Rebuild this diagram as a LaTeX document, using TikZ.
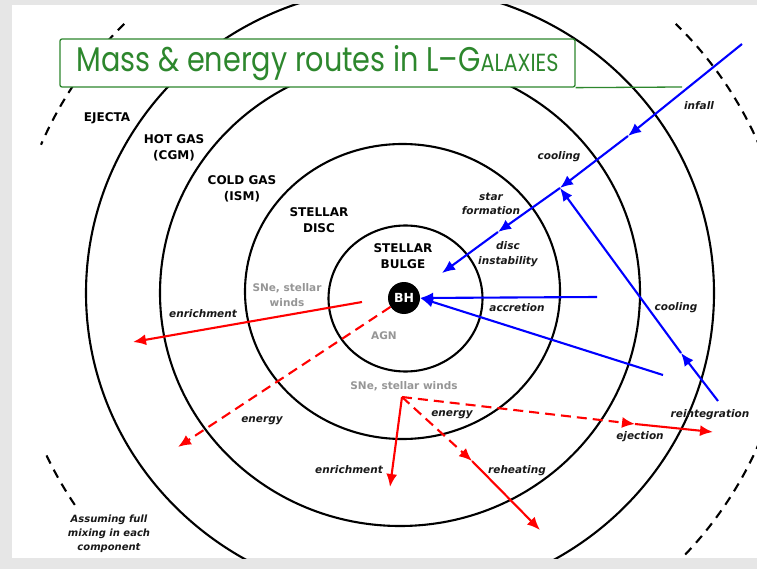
\documentclass[tikz,border=0pt]{standalone}
\usepackage{fontspec}
\setmainfont{DejaVu Sans}
\newfontfamily\titlefont{Poppins}
\usetikzlibrary{arrows.meta}
\definecolor{titlegreen}{RGB}{45,135,45}
\definecolor{bordergray}{RGB}{230,230,230}
\definecolor{labelgray}{RGB}{150,150,150}
\definecolor{flowblue}{RGB}{0,0,255}
\definecolor{flowred}{RGB}{255,0,0}
\definecolor{textdark}{RGB}{25,25,25}
\begin{document}
\begin{tikzpicture}[x=1pt,y=-1pt,
  ring/.style={draw=black, line width=2.1pt},
  ejring/.style={draw=black, line width=2.1pt, dash pattern=on 9pt off 7pt},
  comp/.style={font=\bfseries\fontsize{12}{16.5}\selectfont, align=center, text=black, inner sep=0pt},
  proc/.style={font=\bfseries\itshape\fontsize{10.5}{14.5}\selectfont, align=center, text=textdark, inner sep=0pt},
  src/.style={font=\bfseries\fontsize{10.5}{14.5}\selectfont, align=center, text=labelgray, inner sep=0pt},
  inflow/.style={draw=flowblue, line width=2.1pt, -{Latex[length=13pt,width=11pt]}},
  outflow/.style={draw=flowred, line width=2.1pt, -{Latex[length=13pt,width=11pt]}},
  outflowdash/.style={outflow, dash pattern=on 10pt off 6pt},
  titlebox/.style={draw=titlegreen, line width=1.3pt, fill=white, rounded corners=2pt, minimum width=515pt, minimum height=48pt, inner sep=0pt, text=titlegreen},
]
\useasboundingbox (0,0) rectangle (757,569);
\fill[bordergray] (0,0) rectangle (757,569);
\fill[white] (12,5) rectangle (757,558);

\begin{scope}
\clip (12,5) rectangle (757,558);
\draw[ring] (405.5,298.5) ellipse [x radius=77pt, y radius=73pt];
\draw[ring] (402.5,291.5) ellipse [x radius=157.5pt, y radius=147.5pt];
\draw[ring] (400,293) ellipse [x radius=240pt, y radius=233pt];
\draw[ring] (400,293) ellipse [x radius=314pt, y radius=306pt];
\draw[ejring] (400,294) ++(135:390pt and 382pt) arc[start angle=135, end angle=157, x radius=390pt, y radius=382pt];
\draw[ejring] (400,294) ++(205:390pt and 382pt) arc[start angle=205, end angle=214, x radius=390pt, y radius=382pt];
\draw[ejring] (400,294) ++(-43:390pt and 382pt) arc[start angle=-43, end angle=-20, x radius=390pt, y radius=382pt];
\draw[ejring] (400,294) ++(20:390pt and 382pt) arc[start angle=20, end angle=45, x radius=390pt, y radius=382pt];
\end{scope}

% title
\node[titlebox] (title) at (317.5,63) {\scalebox{0.99}[1.18]{\titlefont\fontsize{29}{29}\selectfont Mass \& energy routes in L–G{\fontsize{21}{21}\selectfont ALAXIES}}};
\coordinate (ruleend) at (682,87);
\draw[titlegreen, line width=1.3pt] (title.south east) -- (ruleend);

% components
\node[comp] (ejecta) at (107,118) {EJECTA};
\node[comp] (hotgas) at (174,148) {HOT GAS\\(CGM)};
\node[comp] (coldgas) at (242,189) {COLD GAS\\(ISM)};
\node[comp] (disc) at (319,220) {STELLAR\\DISC};
\node[comp] (bulge) at (403,256) {STELLAR\\BULGE};
\node[circle, fill=black, minimum size=32pt, inner sep=0pt, text=white, font=\bfseries\fontsize{12.5}{12.5}\selectfont] (bh) at (404,298) {BH};

% sources
\node[src] (snebulge) at (287,295) {SNe, stellar\\winds};
\node[src] (agn) at (384,336) {AGN};
\node[src] (snedisc) at (404,386) {SNe, stellar winds};

% process labels
\node[proc] (infall) at (699,106) {infall};
\node[proc] (cooling1) at (559,157) {cooling};
\node[proc] (starform) at (491,204) {star\\formation};
\node[proc] (discinst) at (508,254) {disc\\instability};
\node[proc] (accretion) at (517,308) {accretion};
\node[proc] (cooling2) at (676,308) {cooling};
\node[proc] (reintegration) at (710,415) {reintegration};
\node[proc] (ejection) at (640,437) {ejection};
\node[proc] (energy1) at (452,415) {energy};
\node[proc] (reheating) at (517,471) {reheating};
\node[proc] (enrich1) at (349,470) {enrichment};
\node[proc] (enrich2) at (203,314) {enrichment};
\node[proc] (energy2) at (262,421) {energy};
\node[proc, font=\bfseries\itshape\fontsize{10}{14}\selectfont] (note) at (109,534) {Assuming full\\mixing in each\\component};

% inflow coordinates
\coordinate (infallstart) at (742,44);
\coordinate (infalltip) at (628,136);
\coordinate (cooltip) at (560,188);
\coordinate (sftip) at (498,232);
\coordinate (ditip) at (442,273);
\coordinate (reincstart) at (718,401);
\coordinate (reinctip) at (681,353);
\coordinate (accstartA) at (597,297);
\coordinate (accstartB) at (663,375);

\draw[inflow] (infallstart) -- (infalltip);
\draw[inflow] (infalltip) -- (cooltip);
\draw[inflow] (cooltip) -- (sftip);
\draw[inflow] (sftip) -- (ditip);
\draw[inflow] (reincstart) -- (reinctip);
\draw[inflow] (reinctip) -- (cooltip);
\draw[inflow] (accstartA) -- (bh.east);
\draw[inflow] (accstartB) -- (bh.east);

% outflow coordinates
\coordinate (enrichstart) at (362,302);
\coordinate (enrichend) at (133,342);
\coordinate (agnend) at (178,447);
\coordinate (snesrc) at (402,397);
\coordinate (enrichdown) at (390,487);
\coordinate (ejecttip) at (635,424);
\coordinate (ejectend) at (713,432);
\coordinate (reheattip) at (472,461);
\coordinate (reheatend) at (540,530);

\draw[outflow] (enrichstart) -- (enrichend);
\draw[outflowdash] (bh) -- (agnend);
\draw[outflow] (snesrc) -- (enrichdown);
\draw[outflowdash] (snesrc) -- (ejecttip);
\draw[outflow] (ejecttip) -- (ejectend);
\draw[outflowdash] (snesrc) -- (reheattip);
\draw[outflow] (reheattip) -- (reheatend);
\end{tikzpicture}
\end{document}
